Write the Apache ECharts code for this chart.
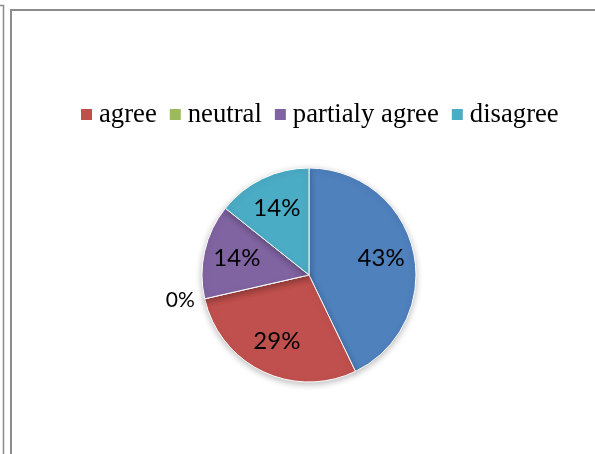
<!DOCTYPE html>
<html>
<head>
<meta charset="utf-8">
<script src="https://cdn.jsdelivr.net/npm/echarts@6/dist/echarts.min.js"></script>
<style>
  html, body { margin: 0; padding: 0; background: #ffffff; }
  #chart { width: 595px; height: 454px; }
</style>
</head>
<body>
<div id="chart"></div>
<script>
// Survey answers (count of respondents per answer)
const categories = ['', 'agree', 'neutral', 'partialy agree', 'disagree'];
const counts = [3, 2, 0, 1, 1];
const sliceColors = ['#4f81bd', '#c0504d', '#9bbb59', '#8064a2', '#4bacc6'];
const legendNames = ['agree', 'neutral', 'partialy agree', 'disagree'];

const pct = p => Math.round(p.percent) + '%';
const center = [309, 275];
const R = 107;

const pieData = categories.map((name, i) => ({
  name,
  value: counts[i],
  itemStyle: { color: sliceColors[i] },
  // empty answers get their label outside the pie
  label: { show: counts[i] === 0 }
}));

// same values again, only used to place the inside percentage labels
const labelData = categories.map((name, i) => ({
  name,
  value: counts[i],
  label: { show: counts[i] !== 0 }
}));

const chart = echarts.init(document.getElementById('chart'), null, { renderer: 'canvas' });
chart.setOption({
  animation: false,
  backgroundColor: '#ffffff',
  graphic: [
    { type: 'rect', shape: { x: 11, y: 10, width: 700, height: 600 },
      style: { fill: 'none', stroke: '#8c8c8c', lineWidth: 2 }, z: 0 },
    { type: 'polyline', shape: { points: [[0, 5.5], [3.5, 5.5], [3.5, 460]] },
      style: { fill: 'none', stroke: '#8c8c8c', lineWidth: 1.5 }, z: 0 }
  ],
  legend: {
    data: legendNames,
    left: 76,
    top: 96,
    icon: 'rect',
    itemWidth: 11,
    itemHeight: 11,
    itemGap: 13,
    selectedMode: false,
    itemStyle: { borderWidth: 0, shadowBlur: 0, shadowOffsetY: 0 },
    textStyle: {
      fontFamily: '"Liberation Serif", "Times New Roman", serif',
      fontSize: 26.7,
      color: '#000000',
      padding: [0, 0, 0, 2]
    }
  },
  series: [
    {
      type: 'pie',
      center: center,
      radius: [0, R],
      startAngle: 90,
      clockwise: true,
      data: pieData,
      itemStyle: {
        borderColor: '#ffffff',
        borderWidth: 1,
        shadowBlur: 6,
        shadowColor: 'rgba(0,0,0,0.25)',
        shadowOffsetY: 2
      },
      label: {
        position: 'outside',
        formatter: pct,
        fontFamily: 'Lato, "Open Sans", sans-serif',
        fontSize: 21,
        color: '#000000',
        distanceToLabelLine: 4
      },
      labelLine: { show: false, length: 6, length2: 0 },
      silent: true
    },
    {
      type: 'pie',
      center: center,
      radius: [0, 142],
      startAngle: 90,
      clockwise: true,
      data: labelData,
      itemStyle: { color: 'rgba(0,0,0,0)', borderWidth: 0 },
      label: {
        position: 'inside',
        formatter: pct,
        fontFamily: 'Lato, "Open Sans", sans-serif',
        fontSize: 24,
        color: '#000000'
      },
      labelLine: { show: false },
      silent: true,
      z: 3
    }
  ]
});
</script>
</body>
</html>
